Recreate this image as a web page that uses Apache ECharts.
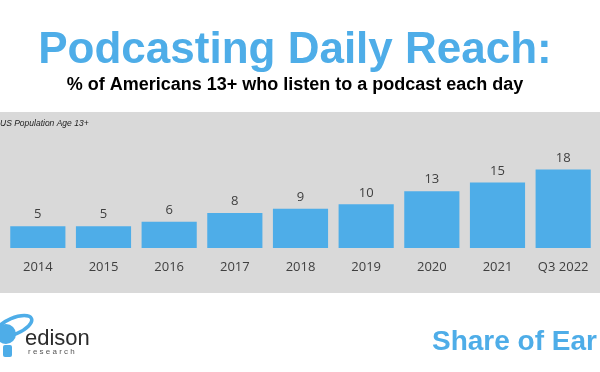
<!DOCTYPE html>
<html>
<head>
<meta charset="utf-8">
<script src="https://cdn.jsdelivr.net/npm/echarts@6/dist/echarts.min.js"></script>
<style>html,body{margin:0;padding:0;background:#fff;}#c{width:600px;height:372px;}</style>
</head>
<body>
<div id="c"></div>
<script>
const categories = ['2014','2015','2016','2017','2018','2019','2020','2021','Q3 2022'];
const reach = [5, 5, 6, 8, 9, 10, 13, 15, 18];

const chart = echarts.init(document.getElementById('c'), null, {renderer: 'canvas'});
const blue = '#4eade8';
chart.setOption({
  animation: false,
  backgroundColor: '#ffffff',
  grid: {left: 5, right: 4, top: 117, bottom: 124, containLabel: false},
  xAxis: {
    type: 'category', data: categories,
    axisLine: {show: false}, axisTick: {show: false},
    axisLabel: {interval: 0, margin: 13, fontSize: 13, color: '#404040', fontFamily: 'Open Sans'}
  },
  yAxis: {type: 'value', min: 0, max: 30, show: false, splitLine: {show: false}},
  series: [{
    type: 'bar', data: reach, barCategoryGap: '16%',
    itemStyle: {color: blue},
    label: {show: true, position: 'top', distance: 5, fontSize: 13, color: '#404040', fontFamily: 'Open Sans'}
  }],
  graphic: [
    {type: 'rect', z: -10, shape: {x: 0, y: 112, width: 600, height: 181}, style: {fill: '#d9d9d9'}},
    {type: 'text', z: 10,
     style: {text: 'Podcasting Daily Reach:', x: 295, y: 29, align: 'center', verticalAlign: 'top',
       font: 'bold 44px "Liberation Sans", Arial, sans-serif', fill: blue}},
    {type: 'text', z: 10,
     style: {text: '% of Americans 13+ who listen to a podcast each day', x: 295, y: 76, align: 'center', verticalAlign: 'top',
       font: 'bold 18px "Liberation Sans", Arial, sans-serif', fill: '#000'}},
    {type: 'text', z: 10,
     style: {text: 'US Population Age 13+', x: 0, y: 124, align: 'left', verticalAlign: 'middle',
       font: 'italic 8.5px "Liberation Sans", Arial, sans-serif', fill: '#222'}},
    {type: 'text', z: 10,
     style: {text: 'Share of Ear', x: 432, y: 328, align: 'left', verticalAlign: 'top',
       font: 'bold 28px "Liberation Sans", Arial, sans-serif', fill: blue}},
    {type: 'text', z: 10,
     style: {text: 'edison', x: 25, y: 328, align: 'left', verticalAlign: 'top',
       font: '22px "Liberation Sans", Arial, sans-serif', fill: '#2b2b2b'}},
    {type: 'text', z: 10,
     style: {text: 'r e s e a r c h', x: 28, y: 348, align: 'left', verticalAlign: 'top',
       font: '8px "Liberation Sans", Arial, sans-serif', fill: '#555'}},
    {type: 'ellipse', z: 10, rotation: 0.4, x: 14, y: 326,
     shape: {cx: 0, cy: 0, rx: 19, ry: 8}, style: {fill: 'none', stroke: blue, lineWidth: 3.5}},
    {type: 'circle', z: 10, shape: {cx: 6, cy: 334, r: 10}, style: {fill: blue}},
    {type: 'rect', z: 10, shape: {x: 3, y: 345, width: 9, height: 12, r: 2}, style: {fill: blue}}
  ]
});
</script>
</body>
</html>
